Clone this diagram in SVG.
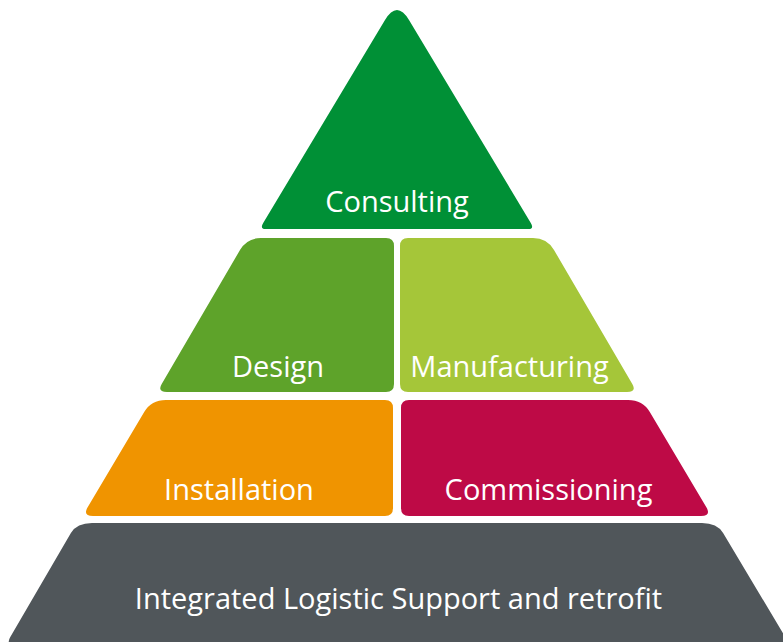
<svg xmlns="http://www.w3.org/2000/svg" width="783" height="642" viewBox="0 0 783 642">
<style>
.lbl{font-family:"Open Sans","Liberation Sans",sans-serif;font-size:29px;fill:#ffffff;text-anchor:middle}
</style>
<rect width="783" height="642" fill="#ffffff"/>
<g id="consulting">
<path d="M385,20 Q397,0 409,20 L530.8,223 Q534.4,229 528.4,229 L265.6,229 Q259.6,229 263.2,223 Z" fill="#009036"/>
<text class="lbl" x="397" y="212">Consulting</text>
</g>
<g id="design">
<path d="M261,238 L386,238 Q394,238 394,246 L394,384 Q394,392 386,392 L167,392 Q157,392 161.7,384 L240,250 Q247,238 261,238 Z" fill="#5ea32a"/>
<text class="lbl" x="278" y="377">Design</text>
</g>
<g id="manufacturing">
<path d="M408,238 L533,238 Q547,238 554,250 L632.3,384 Q637,392 627,392 L408,392 Q400,392 400,384 L400,246 Q400,238 408,238 Z" fill="#a5c639"/>
<text class="lbl" x="509.5" y="377">Manufacturing</text>
</g>
<g id="installation">
<path d="M166,400 L385,400 Q393,400 393,408 L393,508 Q393,516 385,516 L93,516 Q83,516 87.2,508 L144.2,412 Q151.2,400 166,400 Z" fill="#f09400"/>
<text class="lbl" x="239" y="500">Installation</text>
</g>
<g id="commissioning">
<path d="M409,400 L628,400 Q642.8,400 649.8,412 L706.8,508 Q711,516 701,516 L409,516 Q401,516 401,508 L401,408 Q401,400 409,400 Z" fill="#be0a46"/>
<text class="lbl" x="548.5" y="500">Commissioning</text>
</g>
<g id="ils">
<path d="M92,523 L702,523 Q717.1,523 723.1,533 L790,645 L15.5,645 Q5.5,645 10.3,637 L70.9,533 Q76.9,523 92,523 Z" fill="#50565a"/>
<text class="lbl" x="398.5" y="609">Integrated Logistic Support and retrofit</text>
</g>
<g id="connectors"></g>
</svg>
